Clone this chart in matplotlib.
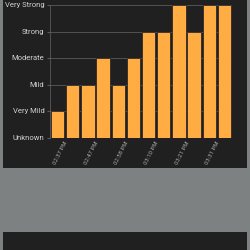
import matplotlib
matplotlib.use('Agg')
import matplotlib.pyplot as plt
import matplotlib.transforms as mtransforms
from matplotlib.patches import Rectangle

# Intensity levels per reading
levels = ['Unknown', 'Very Mild', 'Mild', 'Moderate', 'Strong', 'Very Strong']
values = [1, 2, 2, 3, 2, 3, 4, 4, 5, 4, 5, 5]
times = ['02:37 PM', '', '02:47 PM', '', '02:58 PM', '', '03:10 PM', '',
         '03:21 PM', '', '03:31 PM', '']

plt.rcParams['font.family'] = ['Roboto', 'DejaVu Sans']

fig = plt.figure(figsize=(2.5, 2.5), dpi=100)
fig.patch.set_facecolor('#7e8182')

# dark card panels
fig.add_artist(Rectangle((0.013, 0.329), 0.974, 0.7, transform=fig.transFigure,
                         facecolor='#202020', edgecolor='none', zorder=0))
fig.add_artist(Rectangle((0.013, -0.05), 0.974, 0.122, transform=fig.transFigure,
                         facecolor='#202020', edgecolor='none', zorder=0))

ax = fig.add_axes([0.2, 0.45, 0.728, 0.53])
ax.set_facecolor('#202020')

x = list(range(len(values)))
ax.bar(x, values, width=0.87, color='#ffac42', edgecolor='#1c1c28', linewidth=0.5, zorder=3)

ax.set_xlim(-0.5, len(values) - 0.5)
ax.set_ylim(0, 5)
ax.set_yticks(range(len(levels)))
ax.set_yticklabels(levels, fontsize=5.5, color='#d0d0d0')
ax.yaxis.grid(True, color='#5a5a5a', linewidth=0.6, zorder=0)

ax.set_xticks(x)
ax.set_xticklabels(times, rotation=63, ha='right', va='center', fontsize=4.3,
                   color='#a8a8a8', rotation_mode='anchor')
ax.tick_params(axis='x', length=0, pad=0)
ax.tick_params(axis='y', length=2, color='#5a5a5a', pad=2)
shift = mtransforms.ScaledTranslation(9 / 100, -4 / 100, fig.dpi_scale_trans)
for lbl in ax.get_xticklabels():
    lbl.set_transform(lbl.get_transform() + shift)

for s in ['top', 'right', 'bottom']:
    ax.spines[s].set_visible(False)
ax.spines['left'].set_color('#5a5a5a')
ax.spines['left'].set_linewidth(0.6)

fig.savefig('out.png', dpi=100, facecolor=fig.get_facecolor())
